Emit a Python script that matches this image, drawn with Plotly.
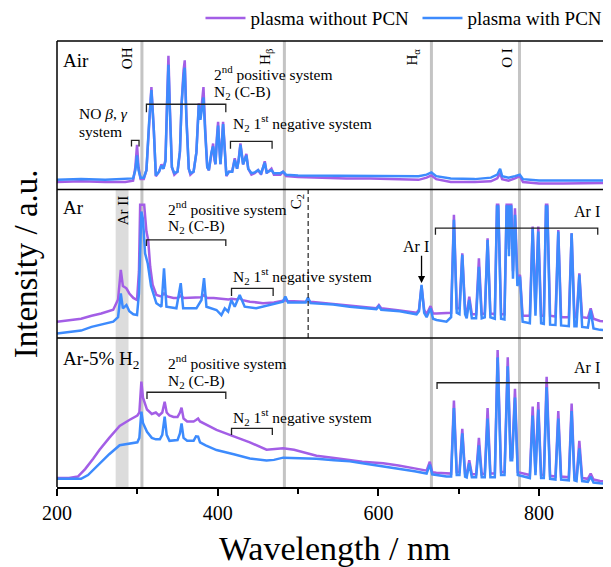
import plotly.graph_objects as go

# ---------------- data (wavelength nm, normalised intensity per panel) ----------------
SERIES_NAMES = ["plasma without PCN", "plasma with PCN"]
PANEL_LABELS = ["Air", "Ar", "Ar-5% H<sub>2</sub>"]
TICK_VALUES = [200, 400, 600, 800]

AIR_WITHOUT = [(200, 0.05), (230, 0.055), (260, 0.05), (285, 0.05), (294.7, 0.06), (297.5, 0.15), (299.6, 0.30),
               (301.5, 0.15), (304, 0.07), (308, 0.07), (311.3, 0.13), (314.5, 0.45), (317.5, 0.69), (320.5, 0.40),
               (323, 0.09), (327, 0.12), (330, 0.17), (332.5, 0.14), (335, 0.20), (337, 0.60), (338.7, 0.90),
               (340.5, 0.55), (343, 0.15), (346, 0.10), (350, 0.12), (353, 0.25), (355, 0.57), (357.5, 0.80),
               (359, 0.87), (361, 0.50), (364, 0.14), (366, 0.10), (370, 0.12), (373.5, 0.25), (376.5, 0.58),
               (378.5, 0.48), (380.5, 0.60), (382.3, 0.69), (384.5, 0.40), (387, 0.15), (389, 0.13), (392.2, 0.26),
               (394.3, 0.31), (396, 0.20), (397.2, 0.17), (399, 0.35), (400.5, 0.455), (402, 0.30), (403.4, 0.17),
               (405, 0.30), (406.7, 0.455), (408.5, 0.30), (410.8, 0.09), (414, 0.12), (418, 0.12), (421.2, 0.21),
               (424.1, 0.14), (426, 0.20), (428.3, 0.31), (431.6, 0.17), (435.7, 0.24), (438, 0.14), (442, 0.10),
               (446, 0.11), (450.3, 0.13), (454, 0.10), (458.6, 0.19), (461, 0.11), (466.9, 0.14), (470, 0.10),
               (478, 0.10), (481.4, 0.12), (485, 0.09), (500, 0.085), (530, 0.08), (560, 0.075), (590, 0.075),
               (620, 0.07), (650, 0.065), (660, 0.08), (666, 0.095), (672, 0.07), (690, 0.05), (720, 0.05),
               (740, 0.055), (748, 0.075), (751.5, 0.11), (754, 0.07), (762, 0.06), (770, 0.075), (776, 0.09),
               (780, 0.05), (800, 0.04), (830, 0.04), (860, 0.04), (889.5, 0.045)]

AIR_WITH = [(200, 0.065), (230, 0.07), (260, 0.065), (285, 0.07), (294.7, 0.075), (297.5, 0.13), (299.6, 0.23),
            (301.5, 0.13), (304, 0.08), (308, 0.08), (311.3, 0.13), (314.5, 0.44), (317.5, 0.67), (320.5, 0.40),
            (323, 0.095), (327, 0.12), (330, 0.16), (332.5, 0.14), (335, 0.19), (337, 0.57), (338.7, 0.84),
            (340.5, 0.52), (343, 0.15), (346, 0.11), (350, 0.12), (353, 0.26), (355, 0.57), (357.5, 0.76),
            (359, 0.82), (361, 0.48), (364, 0.14), (366, 0.11), (370, 0.12), (373.5, 0.25), (376.5, 0.57),
            (378.5, 0.47), (380.5, 0.56), (382.3, 0.62), (384.5, 0.38), (387, 0.15), (389, 0.13), (392.2, 0.25),
            (394.3, 0.29), (396, 0.19), (397.2, 0.17), (399, 0.33), (400.5, 0.43), (402, 0.29), (403.4, 0.17),
            (405, 0.29), (406.7, 0.44), (408.5, 0.29), (410.8, 0.095), (414, 0.12), (418, 0.12), (421.2, 0.20),
            (424.1, 0.14), (426, 0.19), (428.3, 0.30), (431.6, 0.17), (435.7, 0.23), (438, 0.14), (442, 0.11),
            (446, 0.115), (450.3, 0.13), (454, 0.11), (458.6, 0.18), (461, 0.115), (466.9, 0.13), (470, 0.11),
            (478, 0.11), (481.4, 0.12), (485, 0.10), (500, 0.095), (530, 0.095), (560, 0.095), (590, 0.095),
            (620, 0.095), (650, 0.09), (660, 0.10), (666, 0.115), (672, 0.09), (690, 0.075), (720, 0.07),
            (740, 0.08), (748, 0.10), (751.5, 0.14), (754, 0.09), (762, 0.08), (770, 0.09), (776, 0.10),
            (780, 0.07), (800, 0.06), (830, 0.06), (860, 0.06), (889.5, 0.06)]

AR_WITHOUT = [(200, 0.11), (230, 0.13), (243, 0.15), (255, 0.165), (270, 0.19), (276, 0.26), (279.4, 0.459),
              (282, 0.35), (286.4, 0.335), (290, 0.30), (295, 0.27), (299.6, 0.256), (302, 0.45), (303.5, 0.897),
              (308.5, 0.897), (311.3, 0.717), (313.5, 0.66), (316, 0.48), (319, 0.36), (323.7, 0.29), (329.5, 0.28),
              (333.2, 0.30), (337, 0.28), (345, 0.27), (350.5, 0.27), (354, 0.285), (357.5, 0.27), (365, 0.27),
              (379.5, 0.275), (383, 0.29), (386.5, 0.27), (395, 0.27), (404.6, 0.265), (408.5, 0.26), (413.5, 0.26),
              (417, 0.265), (420.5, 0.26), (424, 0.26), (427.4, 0.27), (431, 0.255), (440, 0.245), (456.4, 0.235),
              (470, 0.24), (481.3, 0.25), (484.2, 0.255), (487, 0.25), (500, 0.245), (509.5, 0.245), (512.4, 0.25),
              (515.5, 0.245), (543.7, 0.23), (575, 0.21), (597.5, 0.2), (600.6, 0.222), (603.5, 0.2), (626.7, 0.185),
              (647.5, 0.17), (650.5, 0.19), (653.7, 0.35), (657, 0.19), (660, 0.16), (664.9, 0.215), (668, 0.165),
              (672.4, 0.165), (684.8, 0.166), (690.5, 0.17), (694, 0.83), (697.5, 0.2), (700.9, 0.2), (704.4, 0.57),
              (707.9, 0.19), (709.9, 0.16), (713.1, 0.279), (716.3, 0.16), (721.6, 0.16), (725.1, 0.537),
              (728.6, 0.16), (732.4, 0.165), (735.9, 0.672), (739.4, 0.165), (744.9, 0.16), (747.6, 0.897),
              (749.2, 0.897), (752.7, 0.16), (756.9, 0.16), (759.6, 0.897), (761.2, 0.897), (762.5, 0.6),
              (763.8, 0.897), (765.4, 0.897), (767.5, 0.45), (770, 0.874), (773, 0.4), (776.2, 0.425), (779.5, 0.15),
              (788.5, 0.15), (792, 0.75), (795.5, 0.2), (799, 0.75), (802.5, 0.15), (805.9, 0.15), (808.6, 0.897),
              (810.2, 0.897), (813.7, 0.15), (820.4, 0.145), (823.9, 0.728), (827.4, 0.14), (837, 0.14),
              (840.5, 0.706), (844, 0.14), (846.6, 0.14), (850.1, 0.436), (853.6, 0.14), (860.7, 0.135),
              (864.2, 0.20), (867.7, 0.13), (875.8, 0.115), (889.5, 0.11)]

AR_WITH = [(200, 0.031), (230, 0.05), (243, 0.075), (255, 0.09), (270, 0.11), (276, 0.14), (279.4, 0.301),
           (282, 0.2), (286.4, 0.222), (290, 0.18), (295, 0.16), (299.6, 0.155), (302, 0.3), (305, 0.852),
           (307, 0.8), (309.6, 0.571), (313, 0.5), (317, 0.35), (323.7, 0.234), (330, 0.211), (333.2, 0.47),
           (336.2, 0.211), (348.6, 0.2), (354, 0.369), (357, 0.2), (373.5, 0.2), (379.8, 0.256), (383, 0.403),
           (386, 0.211), (398.5, 0.189), (404.6, 0.155), (408.8, 0.2), (413, 0.178), (417, 0.256), (421.2, 0.211),
           (427.4, 0.29), (433.6, 0.211), (448, 0.2), (464.7, 0.222), (481.3, 0.245), (484.2, 0.279), (487.5, 0.24),
           (509.5, 0.24), (512.4, 0.272), (515.5, 0.235), (543.7, 0.225), (564.3, 0.211), (585, 0.2),
           (597.5, 0.195), (600.6, 0.215), (603.5, 0.19), (626.7, 0.18), (647.5, 0.16), (650.5, 0.18),
           (653.7, 0.358), (657, 0.17), (660, 0.14), (664.9, 0.2), (668, 0.13), (672.4, 0.122), (684.8, 0.11),
           (690.5, 0.14), (694, 0.796), (697.5, 0.17), (700.9, 0.16), (704.4, 0.56), (707.9, 0.16), (709.9, 0.133),
           (713.1, 0.256), (716.3, 0.133), (721.6, 0.133), (725.1, 0.48), (728.6, 0.133), (732.4, 0.14),
           (735.9, 0.66), (739.4, 0.14), (744.9, 0.13), (747.6, 0.886), (749.2, 0.886), (752.7, 0.13),
           (756.9, 0.125), (759.6, 0.886), (761.2, 0.886), (762.5, 0.55), (763.8, 0.886), (765.4, 0.886),
           (767.5, 0.4), (770, 0.83), (773, 0.35), (776.2, 0.414), (779.5, 0.11), (788.5, 0.1), (792, 0.74),
           (795.5, 0.15), (799, 0.717), (802.5, 0.1), (805.9, 0.095), (808.6, 0.886), (810.2, 0.886),
           (813.7, 0.09), (820.4, 0.088), (823.9, 0.717), (827.4, 0.085), (837, 0.08), (840.5, 0.706), (844, 0.08),
           (846.6, 0.08), (850.1, 0.425), (853.6, 0.075), (860.7, 0.07), (864.2, 0.189), (867.7, 0.065),
           (875.8, 0.055), (889.5, 0.054)]

ARH2_WITHOUT = [(200, 0.06), (215, 0.06), (226, 0.07), (235, 0.12), (245, 0.19), (253, 0.25), (265, 0.33),
                (278, 0.41), (290, 0.45), (300, 0.48), (302.5, 0.50), (305, 0.707), (307, 0.60), (309, 0.573),
                (312, 0.52), (318, 0.49), (323, 0.50), (327, 0.48), (331, 0.50), (334, 0.573), (336.5, 0.50),
                (340, 0.48), (345, 0.47), (350, 0.47), (353, 0.50), (355, 0.533), (357.5, 0.46), (362, 0.44),
                (370, 0.44), (373, 0.45), (375.6, 0.46), (378, 0.44), (385, 0.42), (398.5, 0.383), (420, 0.34),
                (440, 0.30), (460.8, 0.25), (470, 0.255), (481.5, 0.26), (495, 0.25), (510, 0.23), (523, 0.21),
                (545, 0.195), (564.5, 0.181), (580, 0.17), (606, 0.159), (625, 0.145), (645, 0.125), (660, 0.11),
                (664, 0.17), (667, 0.10), (672, 0.095), (684.8, 0.09), (690.5, 0.09), (694, 0.58), (697.5, 0.1),
                (700.9, 0.1), (704.4, 0.39), (707.9, 0.09), (709.9, 0.085), (713.1, 0.18), (716.3, 0.085),
                (721.6, 0.085), (725.1, 0.33), (728.6, 0.085), (732.4, 0.09), (735.9, 0.53), (739.4, 0.09),
                (744.9, 0.09), (748.4, 0.92), (752.7, 0.1), (757, 0.1), (761, 0.87), (764.5, 0.2), (766.5, 0.2),
                (770, 0.66), (773.5, 0.1), (788.5, 0.08), (792, 0.54), (795.5, 0.1), (799, 0.57), (802.5, 0.08),
                (805.9, 0.08), (809.4, 0.74), (813.7, 0.075), (820.4, 0.07), (823.9, 0.51), (827.4, 0.07),
                (837, 0.065), (840.5, 0.56), (844, 0.065), (846.6, 0.06), (850.1, 0.31), (853.6, 0.06),
                (860.7, 0.055), (864.2, 0.09), (867.7, 0.05), (875.8, 0.04), (889.5, 0.035)]

ARH2_WITH = [(200, 0.055), (230, 0.055), (238.6, 0.08), (253, 0.16), (265, 0.22), (278, 0.28), (290, 0.29),
             (300, 0.30), (302.5, 0.33), (305, 0.506), (307, 0.43), (309, 0.405), (312, 0.37), (318, 0.33),
             (323, 0.32), (328, 0.32), (331, 0.35), (334, 0.472), (336.5, 0.35), (340, 0.31), (345, 0.31),
             (350, 0.315), (353, 0.36), (355, 0.427), (357.5, 0.33), (362, 0.31), (370, 0.31), (373, 0.34),
             (375.6, 0.338), (378, 0.30), (385, 0.28), (398.5, 0.248), (420, 0.22), (440, 0.192), (460.8, 0.178),
             (470, 0.182), (481.5, 0.197), (495, 0.195), (510, 0.19), (523, 0.19), (545, 0.18), (564.5, 0.172),
             (580, 0.16), (606, 0.14), (625, 0.125), (645, 0.105), (660, 0.09), (664, 0.15), (667, 0.085),
             (672, 0.08), (684.8, 0.07), (690.5, 0.07), (694, 0.53), (697.5, 0.08), (700.9, 0.08), (704.4, 0.36),
             (707.9, 0.07), (709.9, 0.065), (713.1, 0.16), (716.3, 0.065), (721.6, 0.065), (725.1, 0.28),
             (728.6, 0.065), (732.4, 0.065), (735.9, 0.46), (739.4, 0.065), (744.9, 0.065), (748.4, 0.87),
             (752.7, 0.08), (757, 0.08), (761, 0.81), (764.5, 0.18), (766.5, 0.18), (770, 0.60), (773.5, 0.08),
             (788.5, 0.06), (792, 0.48), (795.5, 0.08), (799, 0.52), (802.5, 0.06), (805.9, 0.06), (809.4, 0.67),
             (813.7, 0.055), (820.4, 0.05), (823.9, 0.46), (827.4, 0.05), (837, 0.045), (840.5, 0.51),
             (844, 0.045), (846.6, 0.04), (850.1, 0.26), (853.6, 0.04), (860.7, 0.035), (864.2, 0.07),
             (867.7, 0.03), (875.8, 0.025), (889.5, 0.02)]

REF_LINES = [305.7, 483, 666, 775.6]      # grey vertical marker lines (nm)
AR_II_BAND = (273, 289)                   # grey band (nm)
C2_LINE = 512.6                           # dashed C2 line (nm)

# ---------------- styling ----------------
PURPLE = "#A35EE6"
BLUE = "#3D8BFD"
FONT = "Liberation Serif"
GREY = "#C4C4C4"

fig = go.Figure()
panels = [(AIR_WITHOUT, AIR_WITH, "y3"), (AR_WITHOUT, AR_WITH, "y2"), (ARH2_WITHOUT, ARH2_WITH, "y")]
for i, (wo, w, ya) in enumerate(panels):
    for data, color, name in ((wo, PURPLE, SERIES_NAMES[0]), (w, BLUE, SERIES_NAMES[1])):
        xs = [p[0] for p in data]
        ys = [p[1] for p in data]
        fig.add_trace(go.Scatter(x=xs, y=ys, mode="lines", name=name, xaxis="x", yaxis=ya,
                                 line=dict(color=color, width=2.5), showlegend=(i == 0),
                                 legendgroup=name, hoverinfo="skip"))

shapes = []
for xv in REF_LINES:
    shapes.append(dict(type="line", xref="x", yref="paper", x0=xv, x1=xv, y0=0, y1=1,
                       line=dict(color=GREY, width=3), layer="below"))
shapes.append(dict(type="rect", xref="x", yref="paper", x0=AR_II_BAND[0], x1=AR_II_BAND[1], y0=0, y1=0.667,
                   fillcolor="#DCDCDC", line=dict(width=0), layer="below"))
shapes.append(dict(type="line", xref="x", yref="y2", x0=C2_LINE, x1=C2_LINE, y0=0, y1=1,
                   line=dict(color="#333333", width=1.3, dash="5px,3px")))
for yv in (0.334, 0.667, 1.0):
    shapes.append(dict(type="line", xref="paper", yref="paper", x0=0, x1=1, y0=yv, y1=yv,
                       line=dict(color="black", width=1.5)))
shapes.append(dict(type="line", xref="paper", yref="paper", x0=0, x1=0, y0=0, y1=1,
                   line=dict(color="black", width=1.5)))


def bracket(x0, x1, ytop, ybot, yref):
    shapes.append(dict(type="path", xref="x", yref=yref,
                       path=f"M {x0},{ybot} L {x0},{ytop} L {x1},{ytop} L {x1},{ybot}",
                       line=dict(color="#222222", width=1.3)))


bracket(311.3, 410.1, 0.574, 0.52, "y3")
bracket(292.7, 302.1, 0.331, 0.29, "y3")
bracket(415.9, 467.7, 0.324, 0.275, "y3")
bracket(311.3, 410.1, 0.661, 0.62, "y2")
bracket(417.2, 469.0, 0.335, 0.283, "y2")
bracket(671.0, 873.0, 0.74, 0.695, "y2")
bracket(312.0, 410.1, 0.636, 0.59, "y")
bracket(417.2, 468.0, 0.394, 0.349, "y")
bracket(673.0, 874.6, 0.70, 0.658, "y")

annotations = []


def ann(text, x, y, yref, size=15.5, angle=0, xanchor="left"):
    annotations.append(dict(text=text, x=x, y=y, xref="x", yref=yref, showarrow=False, textangle=angle,
                            xanchor=xanchor, yanchor="middle", font=dict(family=FONT, size=size, color="black")))


# Air panel
ann(PANEL_LABELS[0], 204.5, 0.87, "y3", size=19)
ann("OH", 287.2, 0.885, "y3", size=15, angle=-90, xanchor="center")
ann("H<sub>β</sub>", 460.8, 0.89, "y3", size=15, angle=-90, xanchor="center")
ann("H<sub>α</sub>", 643.3, 0.89, "y3", size=15, angle=-90, xanchor="center")
ann("O I", 759.7, 0.885, "y3", size=15, angle=-90, xanchor="center")
ann("2<sup>nd</sup> positive system", 393.0, 0.784, "y3")
ann("N<sub>2</sub> (C-B)", 393.0, 0.655, "y3")
ann("NO <i>β</i>, <i>γ</i>", 225.0, 0.514, "y3")
ann("system", 225.0, 0.394, "y3")
ann("N<sub>2</sub> 1<sup>st</sup> negative system", 416.5, 0.446, "y3")
# Ar panel
ann(PANEL_LABELS[1], 204.5, 0.877, "y2", size=19)
ann("Ar II", 281.4, 0.863, "y2", size=15, angle=-90, xanchor="center")
ann("2<sup>nd</sup> positive system", 335.5, 0.875, "y2")
ann("N<sub>2</sub> (C-B)", 335.5, 0.75, "y2")
ann("N<sub>2</sub> 1<sup>st</sup> negative system", 416.5, 0.418, "y2")
ann("C<sub>2</sub>", 498.1, 0.917, "y2", size=15, angle=-90, xanchor="center")
ann("Ar I", 646.7, 0.616, "y2", size=16, xanchor="center")
ann("Ar I", 860.0, 0.85, "y2", size=16, xanchor="center")
annotations.append(dict(text="", x=653.7, y=0.37, xref="x", yref="y2", ax=653.7, ay=0.565, axref="x",
                        ayref="y2", showarrow=True, arrowhead=2, arrowsize=1.1, arrowwidth=1.3,
                        arrowcolor="black", standoff=0))
# Ar-5% H2 panel
ann(PANEL_LABELS[2], 204.5, 0.852, "y", size=19)
ann("2<sup>nd</sup> positive system", 335.5, 0.841, "y")
ann("N<sub>2</sub> (C-B)", 335.5, 0.707, "y")
ann("N<sub>2</sub> 1<sup>st</sup> negative system", 416.5, 0.472, "y")
ann("Ar I", 860.0, 0.803, "y", size=16, xanchor="center")
# x-axis title
annotations.append(dict(text="Wavelength / nm", x=0.5, y=-0.137, xref="paper", yref="paper",
                        showarrow=False, xanchor="center", yanchor="middle",
                        font=dict(family=FONT, size=34, color="black")))

yax = dict(range=[0, 1], showticklabels=False, showgrid=False, zeroline=False, ticks="", anchor="x",
           fixedrange=True, automargin=False)
fig.update_layout(
    width=603, height=559,
    margin=dict(l=49, r=0, t=33, b=80, autoexpand=False),
    plot_bgcolor="white", paper_bgcolor="white",
    font=dict(family=FONT, color="black"),
    xaxis=dict(range=[200, 889.5], showline=True, linecolor="black", linewidth=1.5, ticks="outside",
               tickcolor="black", ticklen=7, tickwidth=1.5, tickvals=TICK_VALUES, automargin=False,
               minor=dict(tickvals=[300, 500, 700], ticks="outside", ticklen=5, tickwidth=1.5, tickcolor="black"),
               showgrid=False, zeroline=False, tickfont=dict(family=FONT, size=20, color="black")),
    yaxis=dict(domain=[0, 0.334], **yax),
    yaxis2=dict(domain=[0.334, 0.667],
                title=dict(text="Intensity / a.u.", font=dict(family=FONT, size=33, color="black"), standoff=20),
                **yax),
    yaxis3=dict(domain=[0.667, 1.0], **yax),
    legend=dict(orientation="h", x=0.259, xanchor="left", y=1.094, yanchor="top", itemwidth=40,
                entrywidth=162, entrywidthmode="pixels",
                font=dict(family=FONT, size=19, color="black"), bgcolor="rgba(0,0,0,0)"),
    shapes=shapes,
    annotations=annotations,
)

fig.write_html("out.html")
